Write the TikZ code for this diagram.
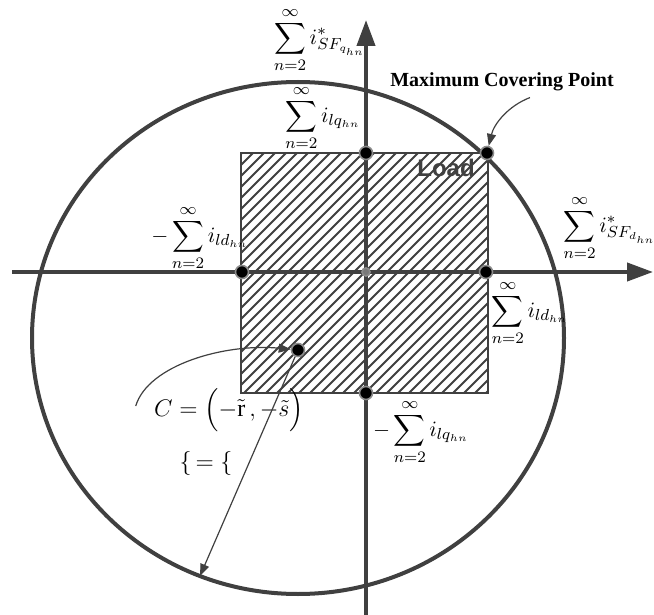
\documentclass[tikz,border=0pt]{standalone}
\usepackage{amsmath,amssymb}
\usepackage{fontspec}
\setmainfont{Liberation Serif}
\setsansfont{Liberation Sans}
\usepackage{tikz}
\usetikzlibrary{positioning,arrows.meta,calc}
\usepackage{xcolor}
\definecolor{axisgray}{HTML}{404040}

\begin{document}
\begin{tikzpicture}[
  x=0.5pt, y=-0.5pt,
  axis/.style={draw=axisgray, line width=2pt, -{Triangle[length=13pt,width=9pt]}},
  dot/.style={circle, fill=black, draw=axisgray!60, line width=0.8pt, inner sep=0pt, minimum size=6.5pt},
  lbl/.style={inner sep=0pt, font=\fontsize{11}{13}\selectfont},
  thinarrow/.style={draw=axisgray, line width=0.6pt, -{Triangle[length=6pt,width=4.5pt]}},
]
\useasboundingbox (0,0) rectangle (654,615);

% Load region with hatching
\fill[white] (241,153) rectangle (488,393);
\begin{scope}
  \clip (241,153) rectangle (488,393);
  \foreach \k in {-250,-239,...,250}
    \draw[axisgray, line width=1pt] (241+\k,393) -- ++(260,-260);
\end{scope}
\draw[axisgray, line width=1pt] (241,153) rectangle (488,393);
\node[font=\sffamily\bfseries\large, text=axisgray] (load) at (446,168) {Load};

% Covering circle
\draw[axisgray, line width=2pt] (298,338) ellipse [x radius=266, y radius=256];

% Axes
\coordinate (xs) at (12,272);
\coordinate (xe) at (653,272);
\coordinate (ys) at (366,615);
\coordinate (ye) at (366,20);
\draw[axis] (xs) -- (xe);
\draw[axis] (ys) -- (ye);

% Points
\node[dot, minimum size=4pt, fill=axisgray!70] (orig) at (366,272) {};
\node[dot] (qtop) at (366,153) {};
\node[dot] (qbot) at (366,393) {};
\node[dot] (dleft) at (242,272) {};
\node[dot] (dright) at (486,272) {};
\node[dot] (maxpt) at (487,153) {};
\node[dot] (cpt) at (298,350) {};
\coordinate (rad) at (200,576);

% Labels
\node[lbl] (sfq) at (320,40) {$\displaystyle\sum_{n=2}^{\infty} i^{*}_{SF_{q_{hn}}}$};
\node[lbl] (sfd) at (610,228) {$\displaystyle\sum_{n=2}^{\infty} i^{*}_{SF_{d_{hn}}}$};
\node[lbl] (lqp) at (323,118) {$\displaystyle\sum_{n=2}^{\infty} i_{lq_{hn}}$};
\node[lbl] (lqn) at (421,432) {$\displaystyle-\sum_{n=2}^{\infty} i_{lq_{hn}}$};
\node[lbl] (ldp) at (530,313) {$\displaystyle\sum_{n=2}^{\infty} i_{ld_{hn}}$};
\node[lbl] (ldn) at (200,238) {$\displaystyle-\sum_{n=2}^{\infty} i_{ld_{hn}}$};
\node[lbl, font=\bfseries] (maxlbl) at (502,82) {Maximum Covering Point};
\node[lbl, font=\fontsize{12}{14}\selectfont] (clbl) at (229,410) {$C=\Bigl(-\tilde{\mathrm{r}}\,,-\tilde{s}\Bigr)$};
\node[lbl, font=\fontsize{12}{14}\selectfont] (rholbl) at (206,463) {$\{\,=\{$};

% Pointers
\draw[thinarrow] ($(maxlbl.south)+(28,6)$) .. controls (508,106) and (494,124) .. (maxpt);
\draw[thinarrow] ($(clbl.west)+(-18,-4)$) .. controls (148,365) and (225,343) .. (cpt);
\draw[thinarrow] (cpt) -- (rad);

\end{tikzpicture}
\end{document}
